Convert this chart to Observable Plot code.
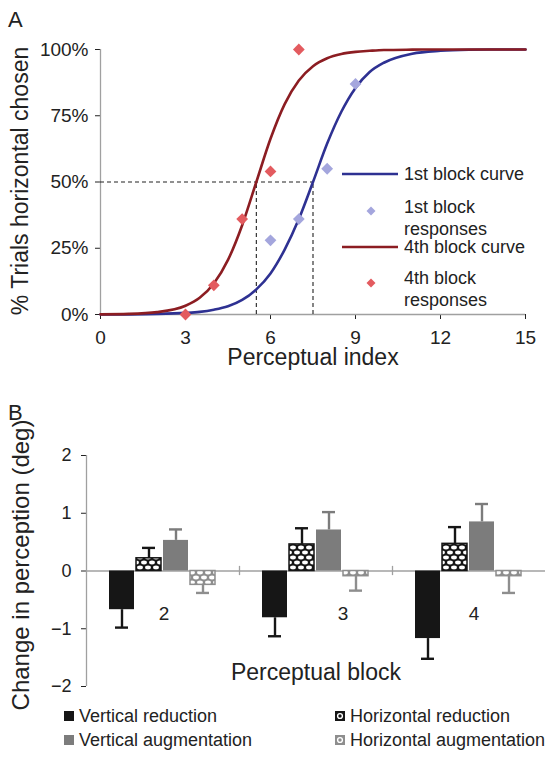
<!DOCTYPE html>
<html><head><meta charset="utf-8">
<script src="https://cdn.jsdelivr.net/npm/d3@7"></script>
<script src="https://cdn.jsdelivr.net/npm/@observablehq/plot@0.6"></script>
<style>
body{margin:0;background:#fff;font-family:"Liberation Sans",Arial,Helvetica,sans-serif;color:#222}
#wrap{position:relative;width:556px;height:757px;overflow:hidden}
#wrap > svg{position:absolute;left:0}
.abs{position:absolute;white-space:nowrap;font-size:18px;line-height:22px;color:#222}
.panel{position:absolute;font-size:22px;line-height:22px;color:#222}
</style></head><body>
<svg width="0" height="0" style="position:absolute">
<defs>
<pattern id="patHR" patternUnits="userSpaceOnUse" width="8" height="10">
 <rect width="8" height="10" fill="#161616"/>
 <ellipse cx="4" cy="2.5" rx="2.9" ry="1.9" fill="#fff"/>
 <ellipse cx="0" cy="7.5" rx="2.9" ry="1.9" fill="#fff"/>
 <ellipse cx="8" cy="7.5" rx="2.9" ry="1.9" fill="#fff"/>
</pattern>
<pattern id="patHA" patternUnits="userSpaceOnUse" width="8" height="10">
 <rect width="8" height="10" fill="#8e8e8e"/>
 <ellipse cx="4" cy="2.5" rx="2.9" ry="1.9" fill="#fff"/>
 <ellipse cx="0" cy="7.5" rx="2.9" ry="1.9" fill="#fff"/>
 <ellipse cx="8" cy="7.5" rx="2.9" ry="1.9" fill="#fff"/>
</pattern>
</defs></svg>
<div id="wrap"></div>
<script>
// ---------- Panel A data ----------
const xTicksA = [0, 3, 6, 9, 12, 15];
const yTicksA = [0, 0.25, 0.5, 0.75, 1];
const block1X = [6, 7, 8, 9];
const block1Y = [0.28, 0.36, 0.55, 0.87];
const block4X = [3, 4, 5, 6, 7];
const block4Y = [0, 0.11, 0.36, 0.54, 1.0];
const curveX = [0,1,2,3,3.5,4,4.5,5,5.5,6,6.5,7,7.5,8,8.5,9,9.5,10,11,12,13,14,15];
const curve1 = [0.0002,0.0006,0.002,0.006,0.01,0.018,0.031,0.055,0.095,0.155,0.245,0.36,0.5,0.645,0.765,0.855,0.915,0.95,0.984,0.995,0.999,1,1];
const curve4 = [0.0006,0.0023,0.009,0.033,0.063,0.117,0.206,0.337,0.5,0.663,0.794,0.883,0.937,0.967,0.983,0.991,0.995,0.998,0.9994,1,1,1,1];
const midpointX = [5.5, 7.5];
const midpointY = 0.5;

// ---------- Panel B data ----------
const blocks = ["2", "3", "4"];
const seriesNames = ["Vertical reduction", "Horizontal reduction", "Vertical augmentation", "Horizontal augmentation"];
const vertRed = [-0.67, -0.81, -1.17];
const vertRedErr = [0.31, 0.32, 0.35];
const horRed = [0.22, 0.46, 0.47];
const horRedErr = [0.18, 0.28, 0.29];
const vertAug = [0.53, 0.71, 0.85];
const vertAugErr = [0.19, 0.31, 0.31];
const horAug = [-0.24, -0.09, -0.09];
const horAugErr = [0.14, 0.25, 0.29];
const yTicksB = [-2, -1, 0, 1, 2];

// ---------- styles ----------
const FONT = '"Liberation Sans", Arial, Helvetica, sans-serif';
const BLUE = "#2e3192", RED = "#8c1d22", BLUE_PT = "#a4a6dd", RED_PT = "#e35b5f";
const AXIS = "#a0a0a0";
const fillOf = {"Vertical reduction": "#161616", "Horizontal reduction": "url(#patHR)", "Vertical augmentation": "#7c7c7c", "Horizontal augmentation": "url(#patHA)"};
const strokeOf = {"Vertical reduction": "none", "Horizontal reduction": "#161616", "Vertical augmentation": "none", "Horizontal augmentation": "#8e8e8e"};
const errOf = {"Vertical reduction": "#161616", "Horizontal reduction": "#161616", "Vertical augmentation": "#7c7c7c", "Horizontal augmentation": "#8e8e8e"};

const pts1 = block1X.map((x, i) => ({x, y: block1Y[i]}));
const pts4 = block4X.map((x, i) => ({x, y: block4Y[i]}));
const line1 = curveX.map((x, i) => ({x, y: curve1[i]}));
const line4 = curveX.map((x, i) => ({x, y: curve4[i]}));

const wrap = document.getElementById("wrap");

const A = Plot.plot({
  width: 556, height: 385,
  marginLeft: 100, marginRight: 31, marginTop: 49, marginBottom: 71,
  style: {fontFamily: FONT, fontSize: "19px", color: "#222", background: "transparent", overflow: "visible"},
  x: {domain: [0, 15], ticks: xTicksA, tickSize: 5, tickPadding: 11, label: null},
  y: {domain: [0, 1], ticks: yTicksA, tickSize: 5, tickPadding: 7, tickFormat: d3.format(".0%"), label: null},
  marks: [
    Plot.ruleX([0], {stroke: AXIS, strokeWidth: 1.3}),
    Plot.ruleY([0], {stroke: AXIS, strokeWidth: 1.3}),
    Plot.ruleY([midpointY], {x1: 0, x2: d3.max(midpointX), stroke: "#222", strokeDasharray: "4,3", strokeWidth: 1.1}),
    Plot.ruleX(midpointX, {y1: 0, y2: midpointY, stroke: "#222", strokeDasharray: "4,3", strokeWidth: 1.1}),
    Plot.line(line1, {x: "x", y: "y", stroke: BLUE, strokeWidth: 2.6, curve: "monotone-x"}),
    Plot.line(line4, {x: "x", y: "y", stroke: RED, strokeWidth: 2.6, curve: "monotone-x"}),
    Plot.dot(pts1, {x: "x", y: "y", symbol: "diamond2", r: 5.3, fill: BLUE_PT, stroke: "none"}),
    Plot.dot(pts4, {x: "x", y: "y", symbol: "diamond2", r: 5.3, fill: RED_PT, stroke: "none"}),
    Plot.text(["% Trials horizontal chosen"], {frameAnchor: "left", textAnchor: "middle", rotate: -90, dx: -80, dy: -1, fontSize: 23, fill: "#222"}),
    Plot.text(["Perceptual index"], {frameAnchor: "bottom", dy: 50, fontSize: 23, fill: "#222"})
  ]
});
A.style.top = "0px";
wrap.appendChild(A);

// Panel B rows
const valuesBy = [vertRed, horRed, vertAug, horAug];
const errBy = [vertRedErr, horRedErr, vertAugErr, horAugErr];
const rows = [];
blocks.forEach((b, bi) => seriesNames.forEach((s, si) => {
  const v = valuesBy[si][bi], e = errBy[si][bi];
  rows.push({block: b, series: s, value: v, end: v + Math.sign(v) * e});
}));

const mL = 86, mR = 11, W = 556;
const halfFacet = (W - mL - mR) / blocks.length / 2;
const labelDx = [1, 27, 5];

const B = Plot.plot({
  width: W, height: 372,
  marginLeft: mL, marginRight: mR, marginTop: 70, marginBottom: 71,
  style: {fontFamily: FONT, fontSize: "18px", color: "#222", background: "transparent", overflow: "visible"},
  fx: {domain: blocks, padding: 0, axis: null, label: null},
  x: {domain: seriesNames, paddingInner: 0.07, paddingOuter: 0.85, axis: null},
  y: {domain: [-2, 2], ticks: yTicksB, tickSize: 5, tickPadding: 10, tickFormat: d3.format("d"), label: null},
  marks: [
    Plot.ruleY([0], {stroke: AXIS, strokeWidth: 1.3}),
    Plot.ruleX(["2"], {fx: d => d, x: null, y1: -2, y2: 2, dx: -halfFacet, stroke: AXIS, strokeWidth: 1.3}),
    Plot.ruleX(["3", "4"], {fx: d => d, x: null, y1: -0.08, y2: 0.08, dx: -halfFacet, stroke: AXIS, strokeWidth: 1.3}),
    Plot.barY(rows, {fx: "block", x: "series", y: "value", fill: d => fillOf[d.series], stroke: d => strokeOf[d.series], strokeWidth: 1.5}),
    Plot.ruleX(rows, {fx: "block", x: "series", y1: "value", y2: "end", stroke: d => errOf[d.series], strokeWidth: 2.4}),
    Plot.tickY(rows, {fx: "block", x: "series", y: "end", stroke: d => errOf[d.series], strokeWidth: 2.4, insetLeft: 6, insetRight: 6}),
    ...blocks.map((b, i) => Plot.text([b], {fx: d => d, text: d => d, frameAnchor: "middle", dy: 43, dx: labelDx[i], fontSize: 19, fill: "#222"})),
    Plot.text(["Perceptual block"], {fx: () => "3", frameAnchor: "bottom", dy: -7, fontSize: 23, fill: "#222"}),
    Plot.text(["Change in perception (deg)"], {fx: () => "2", frameAnchor: "left", textAnchor: "middle", rotate: -90, dx: -65, dy: -6, fontSize: 24, fill: "#222"})
  ]
});
B.style.top = "385px";
wrap.appendChild(B);

// Panel letters
function addDiv(cls, text, left, top) {
  const d = document.createElement("div");
  d.className = cls; d.textContent = text;
  d.style.left = left + "px"; d.style.top = top + "px";
  wrap.appendChild(d); return d;
}
addDiv("panel", "A", 8, 9);
addDiv("panel", "B", 8, 402);

// Panel A legend
function addSvg(left, top, w, h, inner) {
  const d = document.createElement("div");
  d.style.position = "absolute"; d.style.left = left + "px"; d.style.top = top + "px";
  d.innerHTML = `<svg width="${w}" height="${h}" style="display:block">${inner}</svg>`;
  wrap.appendChild(d);
}
addSvg(342, 171, 56, 6, `<line x1="0" x2="56" y1="3" y2="3" stroke="${BLUE}" stroke-width="2.6"/>`);
addDiv("abs", "1st block curve", 404, 163);
addSvg(366, 206, 10, 10, `<path d="M5,0.5L9.5,5L5,9.5L0.5,5Z" fill="${BLUE_PT}"/>`);
addDiv("abs", "1st block", 404, 196);
addDiv("abs", "responses", 404, 218);
addSvg(342, 244, 56, 6, `<line x1="0" x2="56" y1="3" y2="3" stroke="${RED}" stroke-width="2.6"/>`);
addDiv("abs", "4th block curve", 404, 236);
addSvg(366, 278, 10, 10, `<path d="M5,0.5L9.5,5L5,9.5L0.5,5Z" fill="${RED_PT}"/>`);
addDiv("abs", "4th block", 404, 267);
addDiv("abs", "responses", 404, 289);

// Panel B legend
const legendPos = [[64, 705], [335, 705], [64, 729], [335, 729]];
const legendOrder = ["Vertical reduction", "Horizontal reduction", "Vertical augmentation", "Horizontal augmentation"];
legendOrder.forEach((s, i) => {
  const [lx, ly] = legendPos[i];
  const pat = s.startsWith("Horizontal");
  const bg = pat ? (s === "Horizontal reduction" ? "#161616" : "#8e8e8e") : fillOf[s];
  const inner = `<rect x="0" y="0" width="10" height="10" fill="${bg}"/>` + (pat ? `<circle cx="5" cy="5" r="2.4" fill="none" stroke="#fff" stroke-width="1.4"/>` : "");
  addSvg(lx, ly + 6, 10, 10, inner);
  addDiv("abs", s, lx + 15, ly);
});
</script>
</body></html>
